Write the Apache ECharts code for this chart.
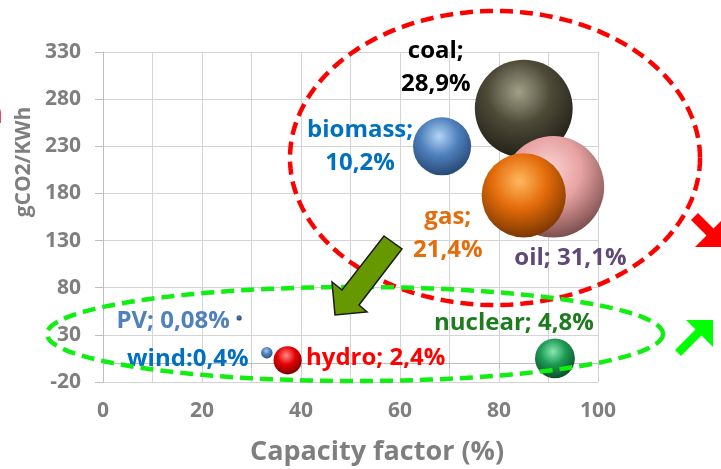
<!DOCTYPE html>
<html>
<head>
<meta charset="utf-8">
<script src="https://cdn.jsdelivr.net/npm/echarts@6/dist/echarts.min.js"></script>
<style>
  html, body { margin: 0; padding: 0; background: #ffffff; }
  #main { width: 721px; height: 469px; }
</style>
</head>
<body>
<div id="main"></div>
<script>
// Electricity sources: capacity factor vs. lifecycle emissions, bubble = share of generation
const sources        = ['coal', 'biomass', 'oil', 'gas', 'nuclear', 'hydro', 'wind', 'PV'];
const capacityFactor = [85, 68.5, 91, 85, 91.3, 37.3, 33.1, 27.5];   // %
const emissions      = [270, 230, 187, 178, 5, 3, 11, 48];           // gCO2/KWh
const sharePct       = [28.9, 10.2, 31.1, 21.4, 4.8, 2.4, 0.4, 0.08]; // share of generation, %
const labelSeparator = [';\n', ';\n', '; ', ';\n', '; ', '; ', ':', '; '];

const xTicks = [0, 20, 40, 60, 80, 100];
const yTicks = [-20, 30, 80, 130, 180, 230, 280, 330];

// styling per source (kept apart from the values)
const sphereColors = [
  ['#a3a088', '#4d4a38', '#1c1b12'],
  ['#b4d4f6', '#4f81bd', '#22406a'],
  ['#fbd3d3', '#e8a2a2', '#6e4444'],
  ['#ffb860', '#e46c0a', '#6e3000'],
  ['#86e8b0', '#1e9a55', '#0a4424'],
  ['#ff8a8a', '#e60000', '#700000'],
  ['#a8c6ec', '#4f81bd', '#2a4a78'],
  ['#5a7fb8', '#3d5f95', '#2a4470']
];
const labelColors  = ['#000000', '#0070c0', '#5f497a', '#e46c0a', '#1e7b1e', '#ff0000', '#0070c0', '#4f81bd'];
const labelOffsets = [[-88, -41], [-82, 0], [17, 71], [-76, 38], [-41, -35], [88, -2], [-79, 6], [-66, 3]];
const bubbleScale = 18.2; // px per sqrt(%)

const FONT = 'Open Sans';
const GREY = '#7f7f7f';

function fmtShare(v) { return String(v).replace('.', ','); }

function ellipsePoints(cx, cy, rx, ry, n) {
  const pts = [];
  for (let i = 0; i < n; i++) {
    const t = 2 * Math.PI * i / n;
    pts.push([cx + rx * Math.cos(t), cy + ry * Math.sin(t)]);
  }
  return pts;
}

const bubbleData = sources.map((name, i) => ({
  name: name,
  value: [capacityFactor[i], emissions[i], sharePct[i]],
  symbolSize: bubbleScale * Math.sqrt(sharePct[i]),
  itemStyle: {
    color: {
      type: 'radial', x: 0.45, y: 0.33, r: 0.72,
      colorStops: [
        { offset: 0, color: sphereColors[i][0] },
        { offset: 0.45, color: sphereColors[i][1] },
        { offset: 1, color: sphereColors[i][2] }
      ]
    }
  },
  label: {
    show: true,
    position: 'inside',
    offset: labelOffsets[i],
    formatter: name + labelSeparator[i] + fmtShare(sharePct[i]) + '%',
    color: labelColors[i],
    fontFamily: FONT,
    fontWeight: 'bold',
    fontSize: 24,
    lineHeight: 33,
    align: 'center'
  }
}));

const chart = echarts.init(document.getElementById('main'), null, { renderer: 'canvas' });

chart.setOption({
  animation: false,
  backgroundColor: '#ffffff',
  grid: { left: 103, right: 123, top: 52, bottom: 87, containLabel: false },
  xAxis: {
    type: 'value',
    min: 0, max: 100, interval: 10,
    axisLine: { show: true, lineStyle: { color: '#bfbfbf', width: 1 } },
    axisTick: { show: true, length: 5, lineStyle: { color: '#bfbfbf' } },
    splitLine: { show: true, lineStyle: { color: '#d4d4d4', width: 1 } },
    axisLabel: {
      margin: 19,
      color: GREY, fontFamily: FONT, fontWeight: 'bold', fontSize: 21,
      formatter: v => (xTicks.indexOf(v) >= 0 ? String(v) : '')
    }
  },
  yAxis: {
    type: 'value',
    min: yTicks[0], max: yTicks[yTicks.length - 1], interval: 50,
    axisLine: { show: true, lineStyle: { color: '#bfbfbf', width: 1 } },
    axisTick: { show: true, length: 8, lineStyle: { color: '#bfbfbf' } },
    splitLine: { show: true, lineStyle: { color: '#d4d4d4', width: 1 } },
    axisLabel: {
      margin: 22,
      color: GREY, fontFamily: FONT, fontWeight: 'bold', fontSize: 21
    }
  },
  series: [{
    type: 'scatter',
    data: bubbleData,
    itemStyle: { opacity: 1 },
    emphasis: { disabled: true }
  }],
  graphic: [
    // axis titles
    {
      type: 'text', x: 24, y: 162, rotation: Math.PI / 2, z: 50,
      style: { text: 'gCO2/KWh', fill: GREY, font: 'bold 21px "Open Sans"', align: 'center', verticalAlign: 'middle' }
    },
    {
      type: 'text', x: 377, y: 452, z: 50,
      style: { text: 'Capacity factor (%)', fill: GREY, font: 'bold 27px "Open Sans"', align: 'center', verticalAlign: 'middle' }
    },
    // clipped red letter at the left edge
    {
      type: 'text', x: 3, y: 114, z: 50,
      style: { text: 'n', fill: '#e8001c', font: 'bold 30px "Open Sans"', align: 'right', verticalAlign: 'middle' }
    },
    // high-emission group
    {
      type: 'polygon', z: 100,
      shape: { points: ellipsePoints(495, 158, 205, 147, 180) },
      style: { fill: 'none', stroke: '#ff0000', lineWidth: 4.5, lineDash: [13, 7] }
    },
    // low-emission group
    {
      type: 'polygon', z: 101,
      shape: { points: ellipsePoints(355, 334, 308, 47, 200) },
      style: { fill: 'none', stroke: '#11ee11', lineWidth: 4.5, lineDash: [13, 7] }
    },
    // shift arrow between the groups
    {
      type: 'polygon', z: 110,
      shape: { points: [[384, 236], [402, 249], [359, 305], [367, 312], [335, 315], [332, 282], [342, 290]] },
      style: { fill: '#669900', stroke: '#1a1a1a', lineWidth: 1.5 }
    },
    // red trend arrow (down-right), clipped by the right edge
    {
      type: 'polygon', z: 110,
      shape: { points: [[691, 220], [698, 213], [716, 231], [709, 238]] },
      style: { fill: '#ff0000' }
    },
    {
      type: 'polygon', z: 110,
      shape: { points: [[695, 247], [728, 247], [728, 214]] },
      style: { fill: '#ff0000' }
    },
    // green trend arrow (up-right)
    {
      type: 'polygon', z: 110,
      shape: { points: [[675, 350], [681, 356], [702, 335], [696, 329]] },
      style: { fill: '#00ff00' }
    },
    {
      type: 'polygon', z: 110,
      shape: { points: [[686, 320], [713, 320], [713, 347]] },
      style: { fill: '#00ff00' }
    }
  ]
});
</script>
</body>
</html>
